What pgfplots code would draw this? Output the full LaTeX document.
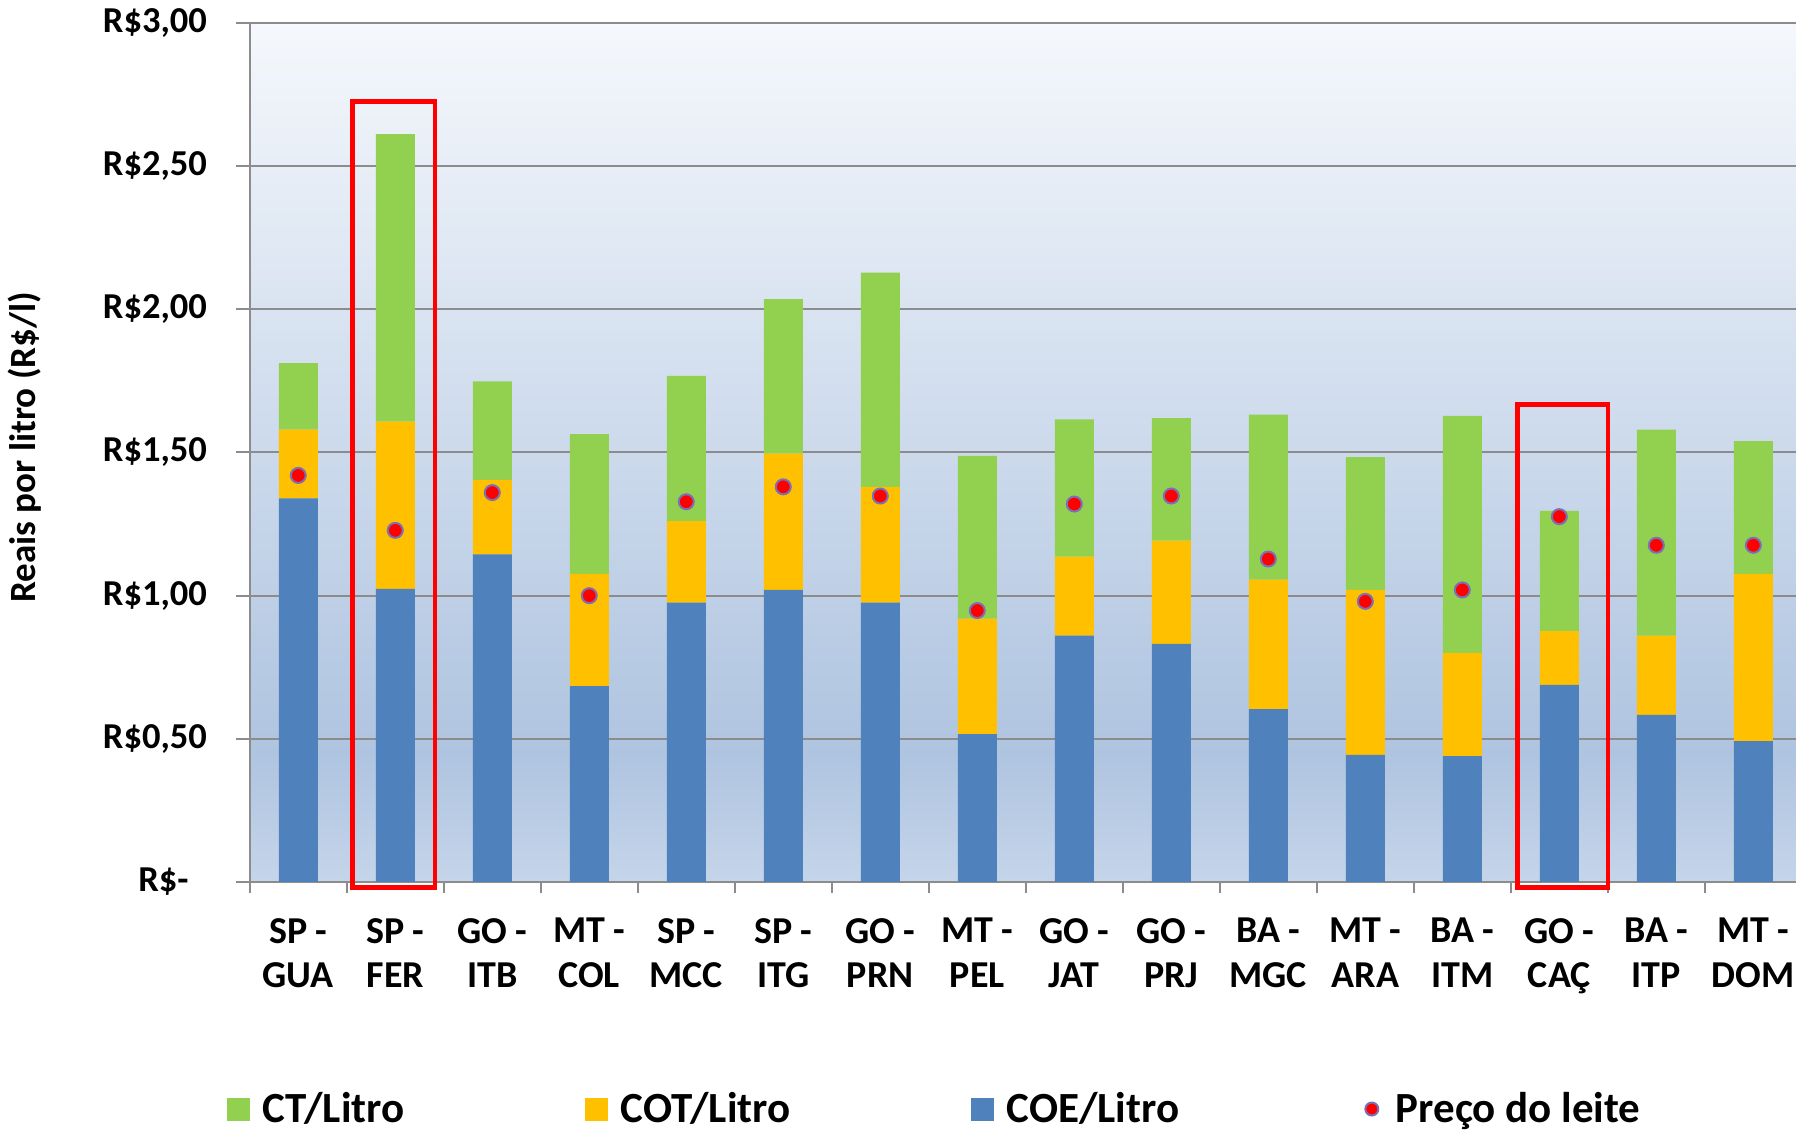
\documentclass[border=0pt]{standalone}
\usepackage{fontspec}
\setmainfont{Carlito}
\usepackage{pgfplots}
\pgfplotsset{compat=1.18}
\usepackage{pgfplotstable}
\definecolor{cblue}{HTML}{4F81BD}
\definecolor{corange}{HTML}{FFC000}
\definecolor{cgreen}{HTML}{92D050}
\definecolor{bgtop}{HTML}{F5F8FC}
\definecolor{bgdark}{HTML}{AFC4E0}
\definecolor{bgbot}{HTML}{C5D5EA}
\definecolor{gridc}{HTML}{8C8C8C}
\definecolor{dotedge}{HTML}{7B6FB5}
\pgfdeclareverticalshading{plotbg}{100bp}{color(0bp)=(bgbot); color(25bp)=(bgbot); color(32.5bp)=(bgdark); color(75bp)=(bgtop); color(100bp)=(bgtop)}

\pgfplotstableread{
x coe cot ct preco
0 1.340 0.240 0.232 1.420
1 1.024 0.584 1.004 1.228
2 1.144 0.260 0.344 1.360
3 0.684 0.392 0.488 1.000
4 0.976 0.284 0.508 1.328
5 1.020 0.476 0.540 1.380
6 0.976 0.404 0.748 1.348
7 0.516 0.404 0.568 0.948
8 0.860 0.276 0.480 1.320
9 0.832 0.360 0.428 1.348
10 0.604 0.452 0.576 1.128
11 0.444 0.576 0.464 0.980
12 0.440 0.360 0.828 1.020
13 0.688 0.188 0.420 1.276
14 0.584 0.276 0.720 1.176
15 0.492 0.584 0.464 1.176
}\data

\newcommand{\yf}{\bfseries\fontsize{14.6pt}{17.9pt}\selectfont}
\newcommand{\xf}{\bfseries\fontsize{15.2pt}{17.9pt}\selectfont}
\newcommand{\lf}{\bfseries\fontsize{14.8pt}{17.9pt}\selectfont}
\newcommand{\gf}{\bfseries\fontsize{17.2pt}{20pt}\selectfont}

\begin{document}
\begin{tikzpicture}
\pgfplotsset{
  common/.style={width=618.5pt, height=343.6pt, scale only axis,
    xmin=-0.5, xmax=15.44, ymin=0, ymax=3,
    at={(99.9pt,99.6pt)}, anchor=south west}
}
\begin{axis}[common,
  ybar stacked, bar width=15.6pt,
  axis background/.style={shading=plotbg},
  axis lines=left, axis line style={-, draw=gridc, line width=0.8pt},
  ymajorgrids, grid style={draw=gridc, line width=0.8pt},
  tick align=outside,
  major tick length=5.5pt, minor tick length=4.6pt,
  tick style={draw=gridc, line width=0.8pt},
  ytick={0,0.5,1,1.5,2,2.5,3},
  yticklabels={{R\$-\rule{7.3pt}{0pt}},{R\$0,50},{R\$1,00},{R\$1,50},{R\$2,00},{R\$2,50},{R\$3,00}},
  yticklabel style={font=\yf, xshift=-8.1pt},
  xtick={0,...,15},
  xticklabels={{SP -\\GUA},{SP -\\FER},{GO -\\ITB},{MT -\\COL},{SP -\\MCC},{SP -\\ITG},{GO -\\PRN},{MT -\\PEL},{GO -\\JAT},{GO -\\PRJ},{BA -\\MGC},{MT -\\ARA},{BA -\\ITM},{GO -\\CAÇ},{BA -\\ITP},{MT -\\DOM}},
  xticklabel style={font=\xf, align=center, yshift=-5.5pt},
  major x tick style={draw=none},
  minor xtick={-0.5,0.5,...,14.5},
  ylabel={Reais por litro (R\$/l)},
  ylabel style={font=\lf, at={(axis description cs:-0.1454,0.506)}, anchor=center},
]
\addplot[fill=cblue, draw=none, forget plot] table[x=x,y=coe]{\data};
\addplot[fill=corange, draw=none, forget plot] table[x=x,y=cot]{\data};
\addplot[fill=cgreen, draw=none, forget plot] table[x=x,y=ct]{\data};
\end{axis}
\begin{axis}[common, hide axis, clip=false,
  legend columns=4,
  legend style={draw=none, fill=none, at={(-0.0149,-0.2643)}, anchor=west,
    inner sep=0pt, font=\gf,
    nodes={inner sep=0pt, anchor=west},
    /tikz/every odd column/.append style={column sep=5pt},
    /tikz/every even column/.append style={column sep=72.4pt}},
]
\addplot[only marks, mark=*, mark size=3pt, mark options={fill=red, draw=dotedge, line width=0.8pt}, forget plot] table[x=x,y=preco]{\data};
\draw[red, line width=1.83pt] (axis cs:0.56,-0.02) rectangle (axis cs:1.41,2.725);
\draw[red, line width=1.83pt] (axis cs:12.566,-0.02) rectangle (axis cs:13.5,1.668);
\addlegendimage{legend image code/.code={\fill[cgreen, draw=none] (0pt,-4.6pt) rectangle (9.2pt,4.6pt);}}
\addlegendentry{CT/Litro}
\addlegendimage{legend image code/.code={\fill[corange, draw=none] (0pt,-4.6pt) rectangle (9.2pt,4.6pt);}}
\addlegendentry{COT/Litro}
\addlegendimage{legend image code/.code={\fill[cblue, draw=none] (0pt,-4.6pt) rectangle (9.2pt,4.6pt);}}
\addlegendentry{COE/Litro}
\addlegendimage{legend image code/.code={\path[draw=none, fill=none] (0pt,-4.6pt) rectangle (9.2pt,4.6pt); \filldraw[fill=red, draw=dotedge, line width=0.8pt] (4.6pt,0pt) circle (2.6pt);}}
\addlegendentry{Preço do leite}
\end{axis}
\pgfresetboundingbox
\path (0,0) rectangle (718.4pt,452.4pt);
\end{tikzpicture}
\end{document}
